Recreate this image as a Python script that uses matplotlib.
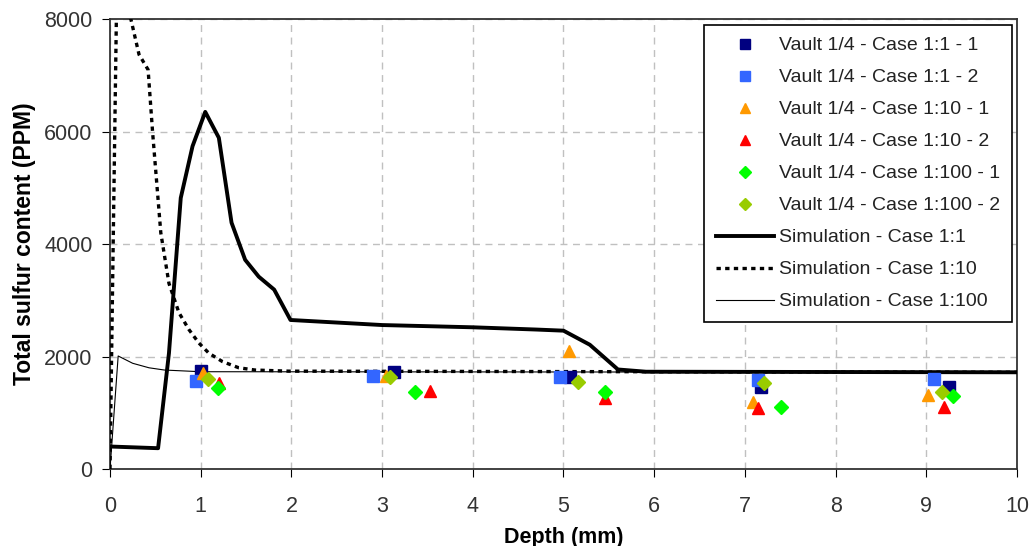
import matplotlib.pyplot as plt

plt.rcParams['font.family'] = ['Liberation Sans', 'DejaVu Sans']

# Simulation curves (depth in mm, sulfur in PPM)
sim_11_x = [0, 0.53, 0.65, 0.78, 0.91, 1.05, 1.2, 1.34, 1.49, 1.64, 1.81, 1.99,
            3.0, 4.0, 4.7, 5.0, 5.29, 5.6, 5.91, 10.0]
sim_11_y = [400, 370, 2060, 4820, 5740, 6350, 5890, 4380, 3720, 3420, 3190, 2650,
            2560, 2520, 2480, 2460, 2210, 1770, 1730, 1720]

sim_110_x = [0, 0.07, 0.12, 0.23, 0.32, 0.42, 0.47, 0.56, 0.65, 0.76, 0.87, 0.98,
             1.09, 1.24, 1.42, 1.6, 1.97, 10.0]
sim_110_y = [0, 8000, 8300, 8000, 7370, 7100, 5980, 4200, 3300, 2780, 2480, 2240,
             2060, 1910, 1800, 1760, 1740, 1720]

sim_1100_x = [0, 0.09, 0.25, 0.43, 0.6, 1.0, 10.0]
sim_1100_y = [0, 2010, 1880, 1800, 1760, 1730, 1720]

# Measured points
c11_1_x = [1.0, 3.13, 5.07, 7.18, 9.25]
c11_1_y = [1750, 1733, 1644, 1466, 1466]
c11_2_x = [0.95, 2.9, 4.96, 7.15, 9.08]
c11_2_y = [1567, 1662, 1644, 1585, 1603]
c110_1_x = [1.03, 3.04, 5.06, 7.09, 9.02]
c110_1_y = [1705, 1656, 2090, 1199, 1318]
c110_2_x = [1.2, 3.53, 5.46, 7.15, 9.19]
c110_2_y = [1537, 1389, 1259, 1081, 1099]
c1100_1_x = [1.19, 3.36, 5.46, 7.4, 9.3]
c1100_1_y = [1437, 1366, 1366, 1099, 1300]
c1100_2_x = [1.08, 3.09, 5.16, 7.21, 9.17]
c1100_2_y = [1597, 1633, 1544, 1537, 1377]

fig = plt.figure(figsize=(10.31, 5.46), dpi=100)
ax = fig.add_axes([0.1067, 0.141, 0.8797, 0.824])

ms = 8.5
ax.plot(c11_1_x, c11_1_y, 's', color='#000080', ms=ms, label='Vault 1/4 - Case 1:1 - 1', zorder=4)
ax.plot(c11_2_x, c11_2_y, 's', color='#3366FF', ms=ms, label='Vault 1/4 - Case 1:1 - 2', zorder=4)
ax.plot(c110_1_x, c110_1_y, '^', color='#FF9900', ms=ms, label='Vault 1/4 - Case 1:10 - 1', zorder=4)
ax.plot(c110_2_x, c110_2_y, '^', color='#FF0000', ms=ms, label='Vault 1/4 - Case 1:10 - 2', zorder=4)
ax.plot(c1100_1_x, c1100_1_y, 'D', color='#00FF00', ms=ms * 0.8, label='Vault 1/4 - Case 1:100 - 1', zorder=4)
ax.plot(c1100_2_x, c1100_2_y, 'D', color='#99CC00', ms=ms * 0.8, label='Vault 1/4 - Case 1:100 - 2', zorder=4)

ax.plot(sim_11_x, sim_11_y, '-', color='black', lw=2.8, label='Simulation - Case 1:1', zorder=3)
ax.plot(sim_110_x, sim_110_y, color='black', lw=2.4, linestyle=(0, (1.3, 1.3)),
        label='Simulation - Case 1:10', zorder=3)
ax.plot(sim_1100_x, sim_1100_y, '-', color='black', lw=0.8, label='Simulation - Case 1:100', zorder=3)

ax.set_xlim(0, 10)
ax.set_ylim(0, 8000)
ax.set_xticks(range(0, 11))
ax.set_yticks([0, 2000, 4000, 6000, 8000])
ax.grid(True, color='#c0c0c0', linestyle=(0, (5, 4)), lw=1)
ax.set_axisbelow(True)
ax.tick_params(direction='out', length=5.5, labelsize=15.5, colors='black', labelcolor='#333333')
ax.tick_params(axis='x', pad=14)
ax.tick_params(axis='y', pad=7)
for s in ax.spines.values():
    s.set_color('#333333')
    s.set_linewidth(1.3)

ax.set_xlabel('Depth (mm)', fontsize=15.5, fontweight='bold', labelpad=7)
ax.set_ylabel('Total sulfur content (PPM)', fontsize=16.5, fontweight='bold', labelpad=6)

leg = ax.legend(loc='upper right', bbox_to_anchor=(0.9945, 0.9867), borderaxespad=0,
                fontsize=14, frameon=True, fancybox=False, edgecolor='black',
                framealpha=1, handlelength=3.0, handletextpad=0.25, labelspacing=0.74,
                markerscale=0.9, borderpad=0.6)
leg.get_frame().set_linewidth(1.2)
for t in leg.get_texts():
    t.set_color('#222222')

fig.savefig('out.png', dpi=100)
